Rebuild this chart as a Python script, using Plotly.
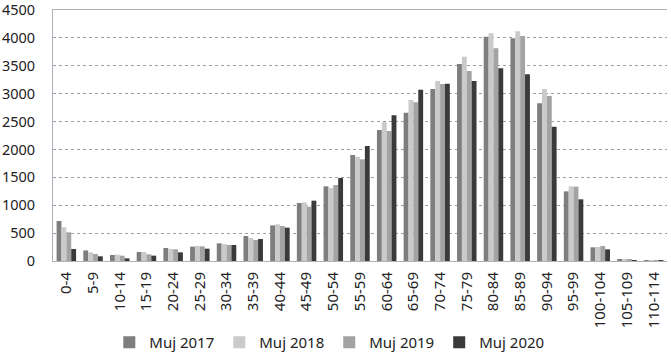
import plotly.graph_objects as go

categories = ["0-4", "5-9", "10-14", "15-19", "20-24", "25-29", "30-34", "35-39", "40-44",
              "45-49", "50-54", "55-59", "60-64", "65-69", "70-74", "75-79", "80-84", "85-89",
              "90-94", "95-99", "100-104", "105-109", "110-114"]

muj_2017 = [717, 190, 108, 161, 233, 257, 317, 448, 639, 1040, 1339, 1900, 2349, 2659, 3084,
            3532, 4022, 3992, 2827, 1249, 245, 30, 3]
muj_2018 = [604, 155, 114, 161, 215, 269, 305, 412, 657, 1052, 1309, 1870, 2486, 2886, 3227,
            3663, 4082, 4118, 3084, 1339, 251, 30, 2]
muj_2019 = [514, 125, 96, 120, 209, 263, 287, 376, 627, 974, 1363, 1823, 2331, 2845, 3173,
            3406, 3813, 4034, 2958, 1333, 269, 36, 2]
muj_2020 = [215, 84, 48, 96, 155, 221, 287, 394, 598, 1082, 1488, 2062, 2612, 3072, 3179,
            3227, 3454, 3347, 2408, 1106, 209, 18, 1]

y_ticks = [0, 500, 1000, 1500, 2000, 2500, 3000, 3500, 4000, 4500]

series = [("Muj 2017", muj_2017, "#7e7e7e"),
          ("Muj 2018", muj_2018, "#cacaca"),
          ("Muj 2019", muj_2019, "#a3a3a3"),
          ("Muj 2020", muj_2020, "#3a3a3a")]

fig = go.Figure()
for name, vals, col in series:
    fig.add_trace(go.Bar(x=categories, y=vals, name=name, marker_color=col,
                         marker_line_width=0))

font_family = "Noto Sans, Liberation Sans, sans-serif"
fig.update_layout(
    width=671, height=363,
    margin=dict(l=53, r=4, t=10, b=102),
    paper_bgcolor="white", plot_bgcolor="white",
    barmode="group", bargap=0.27, bargroupgap=0,
    font=dict(family=font_family, size=14, color="#222222"),
    legend=dict(orientation="h", x=0.45, xanchor="center", y=-0.325, yanchor="middle",
                font=dict(size=15), itemwidth=30, traceorder="normal"),
    xaxis=dict(tickangle=-90, tickfont=dict(size=15), showline=True, mirror=True,
               linecolor="#b0b0b8", linewidth=1, ticks="", showgrid=False, automargin=False,
               ticklabelstandoff=4, ticklabeloverflow="allow"),
    yaxis=dict(range=[0, 4500.5], tickmode="array", tickvals=y_ticks,
               tickfont=dict(size=14.5), showline=True, ticklabelstandoff=14,
               ticklabeloverflow="allow",
               linecolor="#b0b0b8", linewidth=1, gridcolor="#a39aae", griddash="dot",
               gridwidth=1, zeroline=False, ticks="", automargin=False),
)

fig.write_html("out.html", config={"displayModeBar": False},
               post_script="document.body.style.margin='0';document.body.style.overflow='hidden';")
